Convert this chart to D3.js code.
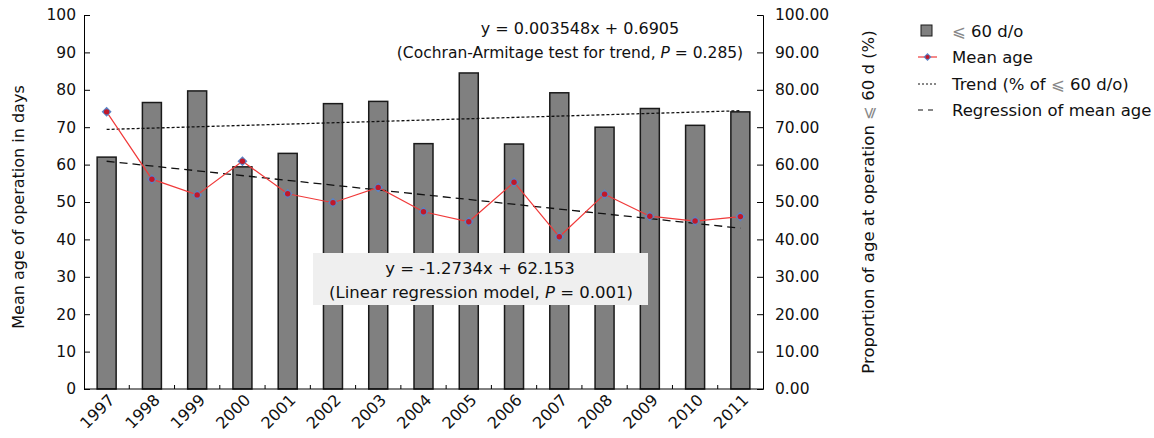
<!DOCTYPE html>
<html>
<head>
<meta charset="utf-8">
<script src="https://cdn.jsdelivr.net/npm/d3@7/dist/d3.min.js"></script>
<style>
  body { margin: 0; background: #fff; }
  svg text { font-family: 'DejaVu Sans', sans-serif; fill: #111; }
</style>
</head>
<body>
<svg id="chart" width="1154" height="438"></svg>
<script>
const years = ['1997','1998','1999','2000','2001','2002','2003','2004','2005','2006','2007','2008','2009','2010','2011'];
const pctUnder60 = [62.0, 76.6, 79.7, 59.4, 63.0, 76.3, 76.9, 65.6, 84.5, 65.5, 79.2, 70.0, 75.0, 70.5, 74.1];
const meanAge = [74.1, 56.1, 51.9, 60.9, 52.2, 49.8, 53.9, 47.4, 44.7, 55.3, 40.7, 52.1, 46.2, 44.9, 46.1];
// end points of the two fitted lines (first and last year)
const trendEnds = [69.4, 74.4];
const regressionEnds = [60.9, 43.0];
const leftTicks = [0, 10, 20, 30, 40, 50, 60, 70, 80, 90, 100];
const rightTicks = [0, 10, 20, 30, 40, 50, 60, 70, 80, 90, 100];

const svg = d3.select('#chart');
const pLeft = 84, pRight = 763, pTop = 15, pBottom = 389;

const x = d3.scaleBand().domain(years).range([pLeft, pRight]);
const yL = d3.scaleLinear().domain([0, 100]).range([pBottom, pTop]);
const yR = d3.scaleLinear().domain([0, 100]).range([pBottom, pTop]);
const cx = d => x(d) + x.bandwidth() / 2;

// bars
svg.append('g').selectAll('rect')
    .data(years)
    .enter()
    .append('rect')
    .attr('x', d => cx(d) - 9.5)
    .attr('y', (d, i) => yR(pctUnder60[i]))
    .attr('width', 19)
    .attr('height', (d, i) => pBottom - yR(pctUnder60[i]))
    .attr('fill', '#808080')
    .attr('stroke', '#1a1a1a')
    .attr('stroke-width', 1.5);

// trend lines
svg.append('line')
    .attr('x1', cx(years[0])).attr('x2', cx(years[years.length - 1]))
    .attr('y1', yR(trendEnds[0])).attr('y2', yR(trendEnds[1]))
    .attr('stroke', '#111').attr('stroke-width', 1.3).attr('stroke-dasharray', '3,2');
svg.append('line')
    .attr('x1', cx(years[0])).attr('x2', cx(years[years.length - 1]))
    .attr('y1', yL(regressionEnds[0])).attr('y2', yL(regressionEnds[1]))
    .attr('stroke', '#111').attr('stroke-width', 1.3).attr('stroke-dasharray', '8,5');

// mean age line
const line = d3.line().x((d, i) => cx(years[i])).y(d => yL(d));
svg.append('path')
    .datum(meanAge)
    .attr('d', line)
    .attr('fill', 'none')
    .attr('stroke', '#f03a3a')
    .attr('stroke-width', 1.2);
const markers = svg.append('g').selectAll('g')
    .data(meanAge)
    .enter()
    .append('g')
    .attr('transform', (d, i) => `translate(${cx(years[i])},${yL(d)})`);
markers.append('path').attr('d', 'M0,-5L5,0L0,5L-5,0Z').attr('fill', '#5b82c4');
markers.append('circle').attr('r', 2.7).attr('fill', '#c0182a');

// axes
const yAxisL = d3.axisRight(yL).tickValues(leftTicks).tickSize(6).tickFormat(d3.format('d'));
const gL = svg.append('g').attr('transform', `translate(${pLeft},0)`).call(yAxisL);
gL.selectAll('text').attr('x', -8).attr('text-anchor', 'end').style('font-size', '15.5px');

const yAxisR = d3.axisLeft(yR).tickValues(rightTicks).tickSize(6).tickFormat(d3.format('.2f'));
const gR = svg.append('g').attr('transform', `translate(${pRight},0)`).call(yAxisR);
gR.selectAll('text').attr('x', 12).attr('text-anchor', 'start').style('font-size', '15.5px');

const xAxis = d3.axisBottom(x).tickSize(0).tickPadding(0);
const gX = svg.append('g').attr('transform', `translate(0,${pBottom})`).call(xAxis);
gX.select('.domain').remove();
gX.selectAll('text')
    .attr('text-anchor', 'end')
    .attr('dy', 0)
    .attr('transform', 'translate(9,12) rotate(-45)')
    .style('font-size', '16px');
svg.append('line').attr('x1', pLeft).attr('x2', pRight).attr('y1', pBottom).attr('y2', pBottom).attr('stroke', '#000');
svg.append('g').selectAll('line')
    .data(years.slice(1))
    .enter()
    .append('line')
    .attr('x1', d => x(d)).attr('x2', d => x(d))
    .attr('y1', pBottom).attr('y2', pBottom - 4)
    .attr('stroke', '#000');
svg.selectAll('.domain').attr('stroke', '#000');
svg.selectAll('.tick line').attr('stroke', '#000');

// axis titles
svg.append('text')
    .attr('transform', `translate(24,${(pTop + pBottom) / 2 + 5}) rotate(-90)`)
    .attr('text-anchor', 'middle')
    .style('font-size', '16px')
    .text('Mean age of operation in days');
const rt = svg.append('text')
    .attr('transform', `translate(874,${(pTop + pBottom) / 2}) rotate(-90)`)
    .attr('text-anchor', 'middle')
    .style('font-size', '16.5px');
rt.append('tspan').text('Proportion of age at operation ');
rt.append('tspan').style('fill', '#888').text('⩽');
rt.append('tspan').text(' 60 d (%)');

// annotations
const a1 = svg.append('text').attr('x', 580).attr('y', 34).attr('text-anchor', 'middle').style('font-size', '16px');
a1.text('y = 0.003548x + 0.6905');
const a2 = svg.append('text').attr('x', 570).attr('y', 58).attr('text-anchor', 'middle').style('font-size', '15.5px');
a2.append('tspan').text('(Cochran-Armitage test for trend, ');
a2.append('tspan').style('font-style', 'italic').text('P');
a2.append('tspan').text(' = 0.285)');

svg.append('rect').attr('x', 313).attr('y', 253).attr('width', 335).attr('height', 52).attr('fill', '#efefef');
svg.append('text').attr('x', 480).attr('y', 274).attr('text-anchor', 'middle').style('font-size', '16.5px').text('y = -1.2734x + 62.153');
const a4 = svg.append('text').attr('x', 481).attr('y', 298).attr('text-anchor', 'middle').style('font-size', '16.5px');
a4.append('tspan').text('(Linear regression model, ');
a4.append('tspan').style('font-style', 'italic').text('P');
a4.append('tspan').text(' = 0.001)');

// legend
const lg = svg.append('g');
lg.append('rect').attr('x', 921).attr('y', 25).attr('width', 11).attr('height', 11).attr('fill', '#808080').attr('stroke', '#1a1a1a');
lg.append('line').attr('x1', 918).attr('x2', 937).attr('y1', 57).attr('y2', 57).attr('stroke', '#f03a3a').attr('stroke-width', 1.2);
lg.append('path').attr('d', 'M927.5,53L931.5,57L927.5,61L923.5,57Z').attr('fill', '#5b82c4');
lg.append('circle').attr('cx', 927.5).attr('cy', 57).attr('r', 2).attr('fill', '#c0182a');
lg.append('line').attr('x1', 918).attr('x2', 937).attr('y1', 84).attr('y2', 84).attr('stroke', '#111').attr('stroke-dasharray', '2,2');
lg.append('line').attr('x1', 918).attr('x2', 937).attr('y1', 110).attr('y2', 110).attr('stroke', '#111').attr('stroke-dasharray', '5,5');

const l1 = lg.append('text').attr('x', 952).attr('y', 37).style('font-size', '16.5px');
l1.append('tspan').style('fill', '#888').text('⩽');
l1.append('tspan').text(' 60 d/o');
lg.append('text').attr('x', 952).attr('y', 63).style('font-size', '16.5px').text('Mean age');
const l3 = lg.append('text').attr('x', 952).attr('y', 90).style('font-size', '16.5px');
l3.append('tspan').text('Trend (% of ');
l3.append('tspan').style('fill', '#888').text('⩽');
l3.append('tspan').text(' 60 d/o)');
lg.append('text').attr('x', 952).attr('y', 116).style('font-size', '16.5px').text('Regression of mean age');
</script>
</body>
</html>
